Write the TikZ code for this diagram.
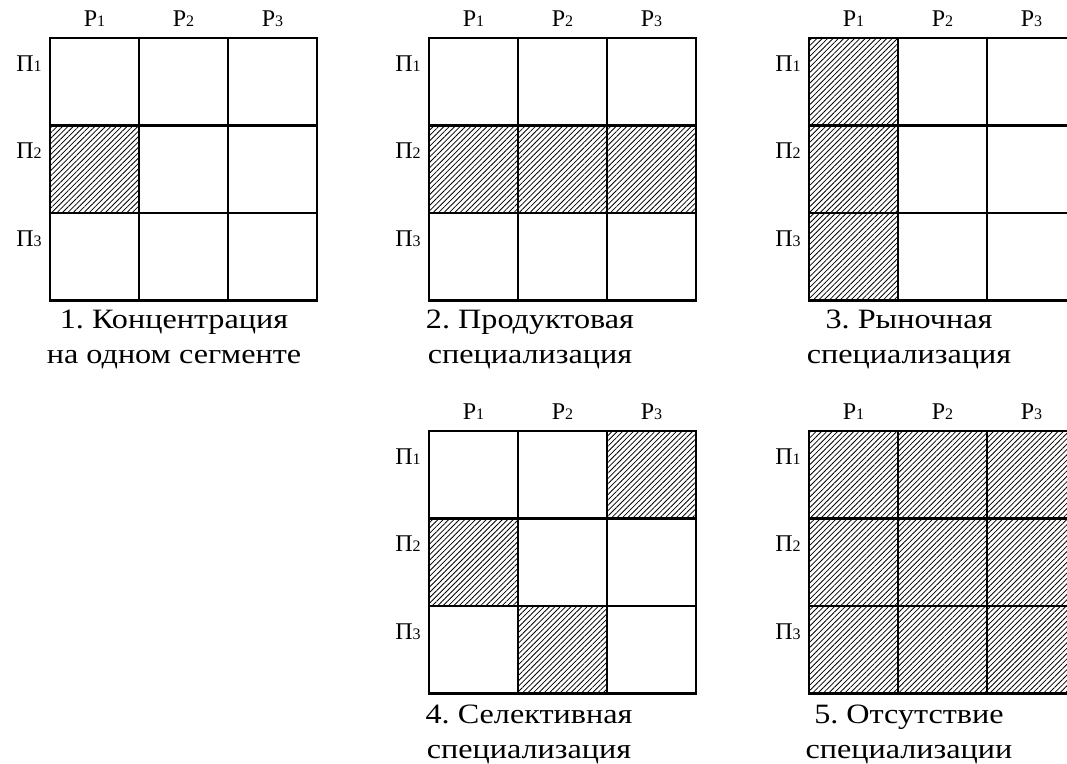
\documentclass[tikz,border=0pt]{standalone}
\usepackage{fontspec}
\setmainfont{Liberation Serif}[FakeStretch=1.15]
\newfontfamily\labelfont{Liberation Serif}
\usetikzlibrary{patterns.meta}
\newcommand{\ix}[1]{{\fontsize{8pt}{9pt}\selectfont #1}}
\frenchspacing

\begin{document}
\begin{tikzpicture}[x=0.5pt,y=-0.5pt]
		\tikzset{cell/.style = {shape=rectangle, draw, line width=1.3pt, minimum width=44.5pt, minimum height=43.75pt, inner sep=0pt}}
		\tikzset{hatched/.style = {cell, pattern={Lines[angle=45,distance=1.9pt,line width=0.4pt]}, pattern color=black}}
		\tikzset{top/.style = {font=\labelfont\fontsize{12pt}{14pt}\selectfont, inner sep=0pt, anchor=base}}
		\tikzset{side/.style = {font=\labelfont\fontsize{12pt}{14pt}\selectfont, inner sep=0pt, anchor=base east}}
		\tikzset{caption/.style = {font=\fontsize{14pt}{17.5pt}\selectfont, align=center, inner sep=0pt, anchor=north}}

		\useasboundingbox (0,0) rectangle (1067,764);

		\node[cell] (A_11) at (94.5,81.75) {};
		\node[cell] (A_12) at (183.5,81.75) {};
		\node[cell] (A_13) at (272.5,81.75) {};
		\node[hatched] (A_21) at (94.5,169.25) {};
		\node[cell] (A_22) at (183.5,169.25) {};
		\node[cell] (A_23) at (272.5,169.25) {};
		\node[cell] (A_31) at (94.5,256.75) {};
		\node[cell] (A_32) at (183.5,256.75) {};
		\node[cell] (A_33) at (272.5,256.75) {};

		\node[cell] (B_11) at (473.5,81.75) {};
		\node[cell] (B_12) at (562.5,81.75) {};
		\node[cell] (B_13) at (651.5,81.75) {};
		\node[hatched] (B_21) at (473.5,169.25) {};
		\node[hatched] (B_22) at (562.5,169.25) {};
		\node[hatched] (B_23) at (651.5,169.25) {};
		\node[cell] (B_31) at (473.5,256.75) {};
		\node[cell] (B_32) at (562.5,256.75) {};
		\node[cell] (B_33) at (651.5,256.75) {};

		\node[hatched] (C_11) at (853.5,81.75) {};
		\node[cell] (C_12) at (942.5,81.75) {};
		\node[cell] (C_13) at (1031.5,81.75) {};
		\node[hatched] (C_21) at (853.5,169.25) {};
		\node[cell] (C_22) at (942.5,169.25) {};
		\node[cell] (C_23) at (1031.5,169.25) {};
		\node[hatched] (C_31) at (853.5,256.75) {};
		\node[cell] (C_32) at (942.5,256.75) {};
		\node[cell] (C_33) at (1031.5,256.75) {};

		\node[cell] (D_11) at (473.5,474.75) {};
		\node[cell] (D_12) at (562.5,474.75) {};
		\node[hatched] (D_13) at (651.5,474.75) {};
		\node[hatched] (D_21) at (473.5,562.25) {};
		\node[cell] (D_22) at (562.5,562.25) {};
		\node[cell] (D_23) at (651.5,562.25) {};
		\node[cell] (D_31) at (473.5,649.75) {};
		\node[hatched] (D_32) at (562.5,649.75) {};
		\node[cell] (D_33) at (651.5,649.75) {};

		\node[hatched] (E_11) at (853.5,474.75) {};
		\node[hatched] (E_12) at (942.5,474.75) {};
		\node[hatched] (E_13) at (1031.5,474.75) {};
		\node[hatched] (E_21) at (853.5,562.25) {};
		\node[hatched] (E_22) at (942.5,562.25) {};
		\node[hatched] (E_23) at (1031.5,562.25) {};
		\node[hatched] (E_31) at (853.5,649.75) {};
		\node[hatched] (E_32) at (942.5,649.75) {};
		\node[hatched] (E_33) at (1031.5,649.75) {};


		\node[top] (A_top1) at (94.5,27) {Р\ix{1}};
		\node[top] (A_top2) at (183.5,27) {Р\ix{2}};
		\node[top] (A_top3) at (272.5,27) {Р\ix{3}};
		\node[side] (A_side1) at (42,72) {П\ix{1}};
		\node[side] (A_side2) at (42,159) {П\ix{2}};
		\node[side] (A_side3) at (42,247) {П\ix{3}};

		\node[top] (B_top1) at (473.5,27) {Р\ix{1}};
		\node[top] (B_top2) at (562.5,27) {Р\ix{2}};
		\node[top] (B_top3) at (651.5,27) {Р\ix{3}};
		\node[side] (B_side1) at (421,72) {П\ix{1}};
		\node[side] (B_side2) at (421,159) {П\ix{2}};
		\node[side] (B_side3) at (421,247) {П\ix{3}};

		\node[top] (C_top1) at (853.5,27) {Р\ix{1}};
		\node[top] (C_top2) at (942.5,27) {Р\ix{2}};
		\node[top] (C_top3) at (1031.5,27) {Р\ix{3}};
		\node[side] (C_side1) at (801,72) {П\ix{1}};
		\node[side] (C_side2) at (801,159) {П\ix{2}};
		\node[side] (C_side3) at (801,247) {П\ix{3}};

		\node[top] (D_top1) at (473.5,420) {Р\ix{1}};
		\node[top] (D_top2) at (562.5,420) {Р\ix{2}};
		\node[top] (D_top3) at (651.5,420) {Р\ix{3}};
		\node[side] (D_side1) at (421,465) {П\ix{1}};
		\node[side] (D_side2) at (421,552) {П\ix{2}};
		\node[side] (D_side3) at (421,640) {П\ix{3}};

		\node[top] (E_top1) at (853.5,420) {Р\ix{1}};
		\node[top] (E_top2) at (942.5,420) {Р\ix{2}};
		\node[top] (E_top3) at (1031.5,420) {Р\ix{3}};
		\node[side] (E_side1) at (801,465) {П\ix{1}};
		\node[side] (E_side2) at (801,552) {П\ix{2}};
		\node[side] (E_side3) at (801,640) {П\ix{3}};


		\node[caption] (A_cap) at (174,310) {1. Концентрация\\на одном сегменте};
		\node[caption] (B_cap) at (530,310) {2. Продуктовая\\специализация};
		\node[caption] (C_cap) at (909,310) {3. Рыночная\\специализация};
		\node[caption] (D_cap) at (529,705) {4. Селективная\\специализация};
		\node[caption] (E_cap) at (909,705) {5. Отсутствие\\специализации};

	\end{tikzpicture}
\end{document}
